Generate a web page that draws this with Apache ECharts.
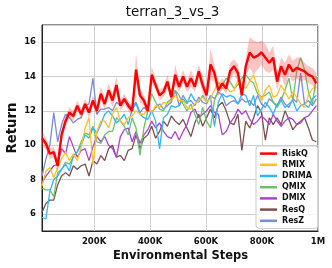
<!DOCTYPE html>
<html><head><meta charset="utf-8">
<script src="https://cdn.jsdelivr.net/npm/echarts@6/dist/echarts.min.js"></script>
<style>html,body{margin:0;padding:0;background:#fff}#c{width:332px;height:268px}</style>
</head><body><div id="c"></div>
<script>
const stepsK = [14,28,42,56,70,84,98,112,126,140,154,168,182,196,210,224,238,252,266,280,294,308,322,336,350,364,378,392,406,420,434,448,462,476,490,504,518,532,546,560,574,588,602,616,630,644,658,672,686,700,714,728,742,756,770,784,798,812,826,840,854,868,882,896,910,924,938,952,966,980,994];
const riskq = [10.4,10.1,9.5,9.6,8.8,10.6,11.4,11.9,11.7,12.3,11.8,12.4,11.9,12.6,12.0,13.0,12.4,13.2,
 12.6,13.5,12.3,12.7,12.3,12.0,14.4,12.9,12.6,12.0,14.1,13.5,12.9,13.1,13.7,12.8,14.1,13.4,
 14.0,13.4,13.9,13.4,14.3,13.5,12.9,14.7,14.2,13.2,13.6,13.3,14.3,14.6,14.2,12.9,14.6,
 15.4,15.1,15.2,15.4,15.1,14.8,15.1,13.7,14.6,14.1,14.7,14.3,14.5,14.4,14.3,14.1,14.0,13.6];
const riskqStd = [0.5,0.3,0.3,0.3,0.4,0.3,0.3,0.3,0.3,0.3,0.3,0.3,0.3,0.3,0.3,0.4,0.3,0.4,
 0.4,0.5,0.3,0.3,0.3,0.3,0.9,0.4,0.3,0.3,0.5,0.3,0.3,0.3,0.4,0.3,0.6,0.3,
 0.4,0.3,0.5,0.3,0.4,0.5,0.3,0.9,0.5,0.4,0.3,0.3,0.5,0.4,0.5,0.3,0.5,
 0.9,1.0,0.8,0.7,0.8,0.6,0.7,0.5,0.5,0.7,0.6,0.6,0.6,0.7,0.5,0.5,0.5,0.6];
const rmix = [7.6,8.5,8.7,8.1,8.7,9.2,9.6,9.1,9.5,9.1,9.9,11.0,11.6,8.9,10.8,11.4,11.4,11.0,
 11.8,12.2,11.4,11.2,11.6,11.7,12.0,11.8,11.8,12.1,11.9,12.3,12.2,12.5,12.4,12.6,12.9,12.6,
 12.6,12.2,12.1,12.4,12.6,12.8,12.5,12.7,13.2,13.7,13.3,13.4,13.1,13.2,13.8,13.5,13.3,
 13.7,14.1,13.3,12.6,13.2,13.5,12.8,12.9,13.5,13.1,12.7,13.1,12.8,12.4,12.2,12.9,13.3,13.4];
const drima = [5.8,5.7,7.3,8.0,8.2,8.6,8.9,8.5,9.4,9.6,10.0,10.6,10.4,11.0,10.7,11.2,11.8,12.0,
 11.7,11.3,11.5,11.8,11.2,12.1,12.4,11.8,11.6,11.5,12.0,11.4,9.8,11.6,11.8,12.3,12.2,12.3,
 12.7,12.4,13.0,12.6,12.5,12.9,12.5,12.8,11.1,12.5,13.0,12.8,12.9,12.8,12.4,13.0,12.9,
 12.3,12.9,11.7,12.1,12.5,12.2,11.8,12.4,12.6,12.2,12.4,12.6,12.0,12.3,12.4,12.2,12.7,12.9];
const qmix = [7.5,7.4,7.4,7.0,8.4,8.6,9.0,8.9,9.3,9.6,10.2,10.7,10.6,11.1,10.2,10.1,10.6,10.8,
 10.8,11.6,11.4,11.1,10.6,11.6,11.0,9.4,11.0,12.0,13.0,12.5,12.1,12.0,12.5,12.7,13.2,12.9,
 12.4,12.0,12.4,11.8,11.2,12.2,11.4,11.0,12.6,13.2,13.5,13.9,13.7,13.3,13.5,13.9,14.1,
 13.8,13.6,13.0,12.8,12.9,13.1,12.5,12.2,12.6,13.2,13.9,12.6,14.3,15.1,14.4,13.1,12.4,14.0];
const dmix = [7.8,8.2,8.5,8.8,8.9,9.8,9.5,10.5,9.9,9.3,9.7,9.8,9.1,9.9,10.5,10.2,10.5,10.0,
 9.8,9.3,10.5,10.9,11.0,10.2,10.8,10.1,10.6,10.9,11.4,11.0,11.3,10.8,10.5,10.4,10.8,10.3,
 10.8,11.2,11.9,12.1,11.6,11.8,12.0,12.3,11.9,11.8,10.6,10.8,11.3,11.6,12.1,11.8,12.0,
 11.5,11.2,11.4,11.7,11.5,11.2,11.8,11.4,11.1,11.4,11.6,11.5,11.2,11.3,11.6,11.7,12.0,12.3];
const resq = [6.1,6.6,6.8,6.8,7.7,8.2,8.4,8.2,8.8,8.6,8.8,8.9,8.2,9.1,8.9,9.4,9.1,9.8,
 10.0,9.3,9.4,9.1,9.7,9.8,10.6,9.8,10.4,10.6,11.1,10.4,10.8,11.4,11.1,11.7,11.4,11.2,
 11.5,11.0,10.5,11.3,11.8,11.1,11.6,12.1,11.6,12.3,12.5,12.0,11.3,11.2,11.8,9.7,11.4,
 11.0,11.6,12.3,11.9,10.3,11.6,11.2,11.6,11.2,12.0,11.5,10.9,11.2,11.4,11.6,11.0,10.3,10.2];
const resz = [8.2,9.2,10.0,11.9,10.2,11.2,11.8,11.6,11.3,11.5,11.6,12.3,12.4,13.9,11.8,12.1,12.1,12.2,
 12.0,12.5,12.3,12.6,12.4,12.2,12.5,11.9,12.2,12.0,11.9,12.2,12.4,12.1,12.3,12.5,13.2,12.3,
 12.9,12.5,12.6,12.3,12.8,12.5,12.4,12.9,12.7,13.1,12.9,12.3,12.5,12.6,12.4,12.7,12.5,
 12.6,12.3,12.9,12.4,12.2,12.7,12.5,12.3,12.8,12.4,12.2,12.7,12.5,14.2,12.4,12.6,12.3,12.7];
const names = ['RiskQ','RMIX','DRIMA','QMIX','DMIX','ResQ','ResZ'];
const colors = {RiskQ:'#ff0000',RMIX:'#ffc125',DRIMA:'#33b5f5',QMIX:'#6cc06c',DMIX:'#aa44cc',ResQ:'#7b5050',ResZ:'#7b8bd6'};
const yTicks = [6,8,10,12,14,16];
const xTickLabels = {200000:'200K',400000:'400K',600000:'600K',800000:'800K',1000000:'1M'};

const pair = arr => arr.map((v,i)=>[stepsK[i]*1000, v]);
const FONT = 'DejaVu Sans';
const line = (name, arr, w, z) => ({
  name, type:'line', data: pair(arr), symbol:'none', z: z||2,
  lineStyle:{width:w, color:colors[name]}, itemStyle:{color:colors[name]}
});
const series = [
  line('ResZ', resz, 1.3),
  line('ResQ', resq, 1.3),
  line('DMIX', dmix, 1.3),
  line('QMIX', qmix, 1.3),
  line('DRIMA', drima, 1.3),
  line('RMIX', rmix, 1.3),
  {name:'band', type:'custom', z:3, data:[[0]],
   renderItem:(params, api) => {
     const up = riskq.map((v,i)=>api.coord([stepsK[i]*1000, v+riskqStd[i]]));
     const lo = riskq.map((v,i)=>api.coord([stepsK[i]*1000, v-riskqStd[i]])).reverse();
     return {type:'polygon', shape:{points: up.concat(lo)}, style:{fill:'rgba(255,60,60,0.3)'}};
   }},
  line('RiskQ', riskq, 2.4, 5)
];

const chart = echarts.init(document.getElementById('c'), null, {renderer:'canvas'});
chart.setOption({
  animation:false,
  backgroundColor:'#fff',
  grid:{left:42, right:14, top:25, bottom:37, show:true, borderColor:'#222', borderWidth:1, containLabel:false},
  xAxis:{type:'value', min:14000, max:1000000, splitNumber:5,
    axisLine:{show:true, lineStyle:{color:'#222'}}, axisTick:{show:false},
    splitLine:{show:true, lineStyle:{color:'#cfcfcf', width:1}},
    axisLabel:{margin:6, color:'#111', fontSize:8.5, fontWeight:'bold', fontFamily:FONT,
      formatter: v => xTickLabels[v] || ''}},
  yAxis:{type:'value', min:5, max:17, splitNumber:6,
    axisLine:{show:true, lineStyle:{color:'#222'}}, axisTick:{show:false},
    splitLine:{show:true, lineStyle:{color:'#cfcfcf', width:1}},
    axisLabel:{margin:6, color:'#111', fontSize:8.5, fontWeight:'bold', fontFamily:FONT,
      formatter: v => yTicks.includes(v) ? String(v) : ''}},
  legend:{data:names, orient:'vertical', left:256, top:146, icon:'rect', itemWidth:17, itemHeight:2.5,
    itemGap:2, padding:[3,6,3,4], borderColor:'#cccccc', borderWidth:1, borderRadius:3,
    backgroundColor:'rgba(255,255,255,0.85)',
    textStyle:{fontSize:8, fontWeight:'bold', fontFamily:FONT, color:'#111', lineHeight:9.2}},
  graphic:[
    {type:'text', x:172.5, y:12, style:{text:'terran_3_vs_3', fontSize:13.5, fontFamily:FONT, fill:'#111', textAlign:'center', textVerticalAlign:'middle'}},
    {type:'text', x:12.3, y:128, rotation:Math.PI/2, style:{text:'Return', fontSize:13.3, fontWeight:'bold', fontFamily:FONT, fill:'#111', textAlign:'center', textVerticalAlign:'middle'}},
    {type:'text', x:180.5, y:256, style:{text:'Environmental Steps', fontSize:11.5, fontWeight:'bold', fontFamily:FONT, fill:'#111', textAlign:'center', textVerticalAlign:'middle'}}
  ],
  series
});
</script></body></html>
